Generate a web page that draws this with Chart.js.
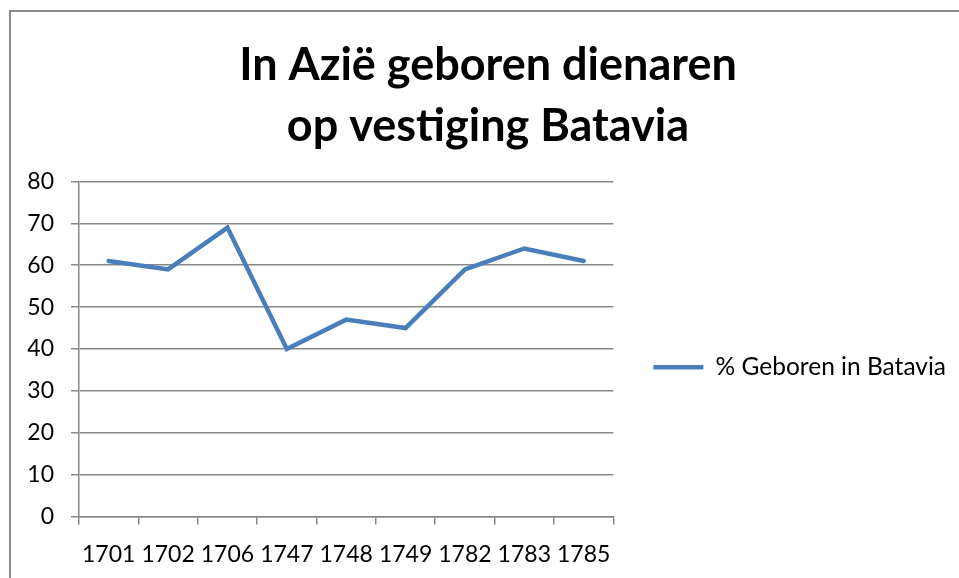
<!DOCTYPE html>
<html>
<head>
<meta charset="utf-8">
<script src="https://cdn.jsdelivr.net/npm/chart.js@4"></script>
<style>
  body { margin: 0; background: #fff; }
  #frame { position: absolute; left: 9px; top: 10px; width: 960px; height: 580px;
           border-left: 2px solid #8a8a8a; border-top: 2px solid #8a8a8a; }
  #c { position: absolute; left: 0; top: 0; }
</style>
</head>
<body>
<div id="frame"></div>
<canvas id="c" width="959" height="578"></canvas>
<script>
const years = ['1701', '1702', '1706', '1747', '1748', '1749', '1782', '1783', '1785'];
const bornInBatavia = [61, 59, 69, 40, 47, 45, 59, 64, 61];
const titleLines = ['In Azië geboren dienaren', 'op vestiging Batavia'];
const seriesName = '% Geboren in Batavia';

const gray = '#878787';
const blue = '#4a7ebb';
const font = 'Lato';

const chart = new Chart(document.getElementById('c'), {
  type: 'line',
  data: {
    labels: years,
    datasets: [
      {
        label: seriesName,
        data: bornInBatavia,
        borderColor: blue,
        backgroundColor: blue,
        borderWidth: 4.5,
        borderCapStyle: 'round',
        pointRadius: 0,
        tension: 0,
      },
    ],
  },
  options: {
    responsive: false,
    animation: false,
    layout: { padding: { left: 20, right: 3, top: 35, bottom: -6 } },
    plugins: {
      title: {
        display: true,
        text: titleLines,
        color: '#000',
        font: { family: font, size: 45, weight: 'bold', lineHeight: 1.35 },
        padding: { top: 0, bottom: 25 },
      },
      legend: {
        position: 'right',
        align: 'start',
        maxWidth: 400,
        // empty title only pushes the entry down to Excel's spot
        title: { display: true, text: '', font: { size: 10 }, padding: { top: 268, bottom: 0 } },
        labels: {
          boxWidth: 50,
          boxHeight: 0,
          padding: 40,
          color: '#000',
          font: { family: font, size: 24.5 },
        },
      },
      tooltip: { enabled: false },
    },
    scales: {
      x: {
        offset: true,
        grid: { offset: true, drawOnChartArea: false, color: gray, lineWidth: 1.5, tickLength: 8 },
        border: { color: gray, width: 1.5 },
        ticks: { color: '#000', font: { family: font, size: 23, lineHeight: 0.94 }, padding: 19, maxRotation: 0, autoSkip: false },
      },
      y: {
        min: 0,
        max: 80,
        ticks: { stepSize: 10, color: '#000', font: { family: font, size: 23 }, padding: 17 },
        grid: { color: gray, lineWidth: 1.5, tickLength: 8 },
        border: { color: gray, width: 1.5 },
        afterFit: (scale) => { scale.width = 59; },
      },
    },
  },
});
</script>
</body>
</html>
